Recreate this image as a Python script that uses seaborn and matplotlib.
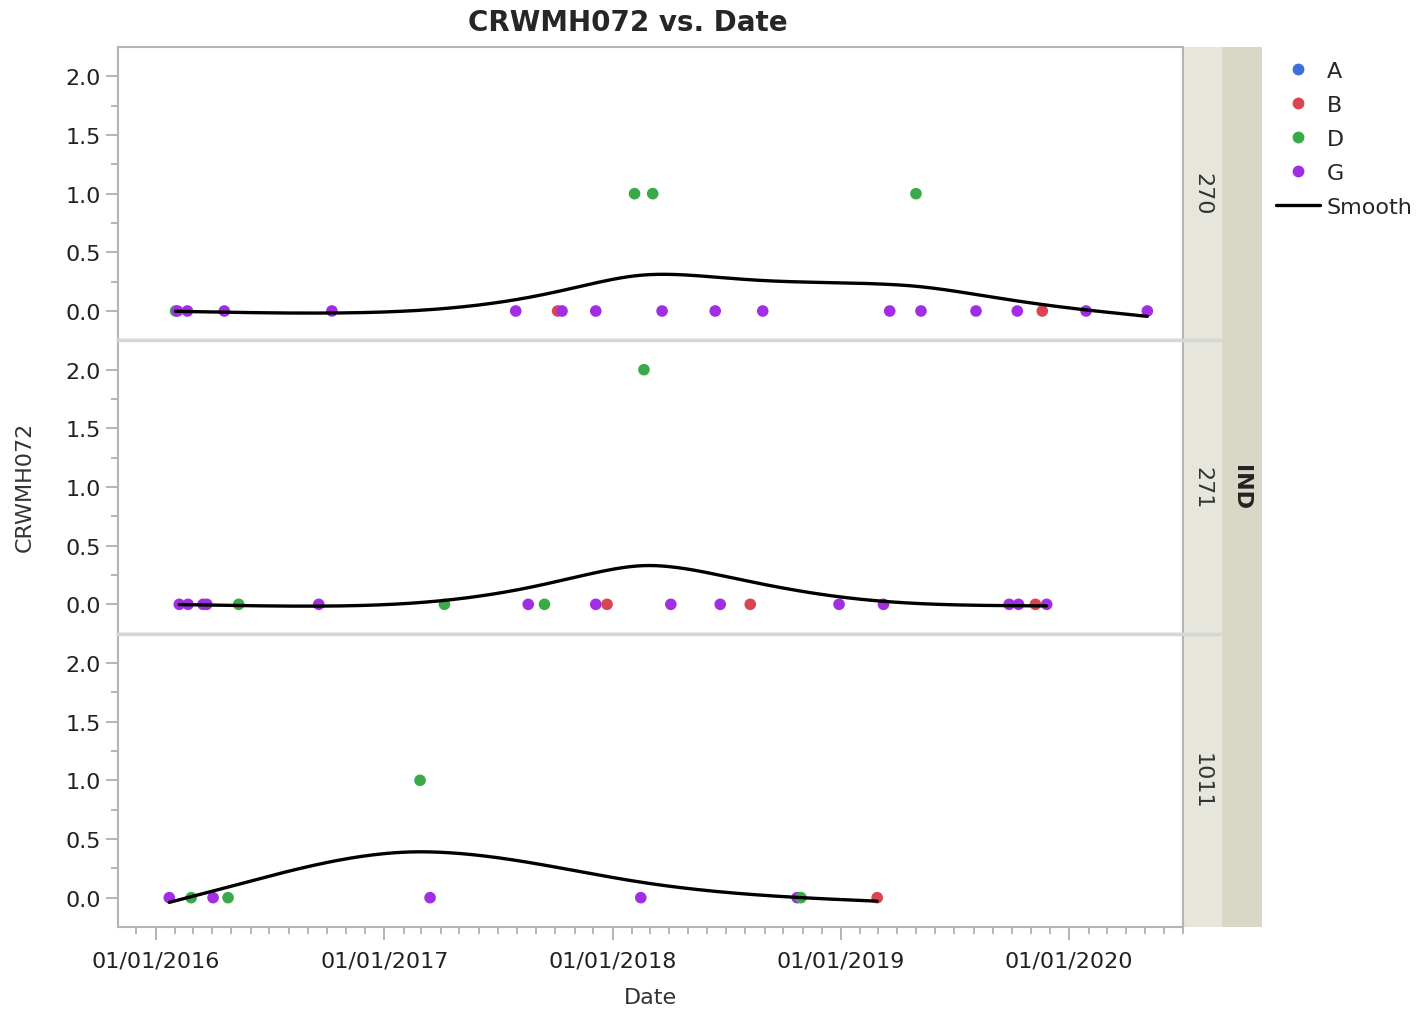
import numpy as np
import pandas as pd
import seaborn as sns
import matplotlib.pyplot as plt
import matplotlib.dates as mdates
from matplotlib.lines import Line2D
from matplotlib.patches import Rectangle

# data, one set of lists per IND panel
ind_270_date = ['2016-02-02', '2016-02-05', '2016-02-21', '2016-04-20', '2016-10-09',
                '2017-07-30', '2017-10-05', '2017-10-12', '2017-12-05', '2018-02-05',
                '2018-03-06', '2018-03-21', '2018-06-14', '2018-08-29', '2019-03-20',
                '2019-05-01', '2019-05-09', '2019-08-05', '2019-10-10', '2019-11-19',
                '2020-01-28', '2020-05-05']
ind_270_value = [0, 0, 0, 0, 0, 0, 0, 0, 0, 1, 1, 0, 0, 0, 0, 1, 0, 0, 0, 0, 0, 0]
ind_270_group = ['D', 'G', 'G', 'G', 'G', 'G', 'B', 'G', 'G', 'D', 'D', 'G', 'G', 'G',
                 'G', 'D', 'G', 'G', 'G', 'B', 'G', 'G']

ind_271_date = ['2016-02-08', '2016-02-22', '2016-03-17', '2016-03-23', '2016-05-13',
                '2016-09-18', '2017-04-07', '2017-08-19', '2017-09-14', '2017-12-05',
                '2017-12-23', '2018-02-20', '2018-04-04', '2018-06-22', '2018-08-09',
                '2018-12-29', '2019-03-10', '2019-09-27', '2019-10-12', '2019-11-08',
                '2019-11-26']
ind_271_value = [0, 0, 0, 0, 0, 0, 0, 0, 0, 0, 0, 2, 0, 0, 0, 0, 0, 0, 0, 0, 0]
ind_271_group = ['G', 'G', 'G', 'G', 'D', 'G', 'D', 'G', 'D', 'G', 'B', 'D', 'G', 'G',
                 'B', 'G', 'G', 'G', 'G', 'B', 'G']

ind_1011_date = ['2016-01-23', '2016-02-27', '2016-04-02', '2016-04-26', '2017-02-27',
                 '2017-03-15', '2018-02-15', '2018-10-23', '2018-10-29', '2019-02-28']
ind_1011_value = [0, 0, 0, 0, 1, 0, 0, 0, 0, 0]
ind_1011_group = ['G', 'D', 'G', 'D', 'D', 'G', 'G', 'G', 'D', 'B']

ind_order = ['270', '271', '1011']
groups = ['A', 'B', 'D', 'G']
group_colors = ['#3d6fd9', '#db4451', '#38aa48', '#a22ee4']

frames = []
for ind, d, v, gr in [('270', ind_270_date, ind_270_value, ind_270_group),
                      ('271', ind_271_date, ind_271_value, ind_271_group),
                      ('1011', ind_1011_date, ind_1011_value, ind_1011_group)]:
    frames.append(pd.DataFrame({'IND': ind, 'Date': pd.to_datetime(d),
                                'CRWMH072': v, 'Group': gr}))
df = pd.concat(frames, ignore_index=True)


def smooth_curve(dates, values, lam=0.07, n=400):
    # penalised (smoothing-spline like) fit on a fine grid, x in years
    t = (dates - dates.min()).dt.days.values / 365.25
    grid = np.linspace(0, t.max(), n)
    h = grid[1] - grid[0]
    idx = np.round(t / h).astype(int)
    w = np.bincount(idx, minlength=n).astype(float)
    z = np.bincount(idx, weights=np.asarray(values, float), minlength=n)
    D = np.diff(np.eye(n), 2, axis=0)
    s = np.linalg.solve(np.diag(w) + lam / h ** 3 * D.T @ D, z)
    grid_dates = dates.min() + pd.to_timedelta(grid * 365.25, unit='D')
    return grid_dates, s


sns.set_style('white')
plt.rcParams['font.family'] = ['DejaVu Sans']

g = sns.FacetGrid(df, row='IND', row_order=ind_order, sharex=True, sharey=True,
                  height=3, aspect=3.6, despine=False)
g.map_dataframe(sns.scatterplot, x='Date', y='CRWMH072', hue='Group', hue_order=groups,
                palette=group_colors, s=70, edgecolor='none', zorder=3)
g.set_titles(template='')

fig = g.figure
fig.set_size_inches(14.23, 10.12)
W, H = 1423.0, 1012.0
left, right, top, bottom = 118 / W, 1183 / W, 1 - 48 / H, 1 - 928 / H
fig.subplots_adjust(left=left, right=right, top=top, bottom=bottom, hspace=0)

for ax, ind in zip(g.axes.flat, ind_order):
    sub = df[df['IND'] == ind]
    gd, sv = smooth_curve(sub['Date'], sub['CRWMH072'])
    sns.lineplot(x=gd, y=sv, ax=ax, color='black', lw=2.4, zorder=4)
    ax.set_xlim(pd.Timestamp('2015-11-02'), pd.Timestamp('2020-07-01'))
    ax.set_ylim(-0.25, 2.25)
    ax.set_yticks([0, 0.5, 1.0, 1.5, 2.0])
    ax.set_yticks([0.25, 0.75, 1.25, 1.75], minor=True)
    ax.yaxis.set_major_formatter(plt.FormatStrFormatter('%.1f'))
    ax.xaxis.set_major_locator(mdates.YearLocator())
    ax.xaxis.set_minor_locator(mdates.MonthLocator())
    ax.xaxis.set_major_formatter(mdates.DateFormatter('%m/%d/%Y'))
    ax.tick_params(axis='both', which='major', length=9, width=1.2, color='#a8a8a8',
                   labelsize=16, labelcolor='#222222', direction='out')
    ax.tick_params(axis='both', which='minor', length=5, width=1.2, color='#a8a8a8',
                   direction='out')
    ax.tick_params(axis='x', which='major', pad=8)
    ax.tick_params(axis='x', which='both', bottom=True)
    ax.tick_params(axis='y', which='both', left=True)
    for sp in ax.spines.values():
        sp.set_color('#b4b4b4')
        sp.set_linewidth(1.5)
    ax.set_xlabel('')
    ax.set_ylabel('')
    if ax.get_legend() is not None:
        ax.get_legend().remove()

for ax in g.axes.flat[:-1]:
    ax.tick_params(axis='x', which='both', bottom=False, labelbottom=False)
    ax.spines['bottom'].set_color('#d6d6d6')
    ax.spines['bottom'].set_linewidth(2.5)

g.axes.flat[-1].set_xlabel('Date', fontsize=16, color='#333333', labelpad=12)
fig.text(25 / W, 1 - 487 / H, 'CRWMH072', rotation=90, fontsize=16, color='#333333',
         ha='center', va='center')
fig.suptitle('CRWMH072 vs. Date', x=628 / W, y=1 - 9 / H, fontsize=20,
             fontweight='bold', va='top')

# strips on the right: inner per-panel labels and outer IND band
panel_h = (top - bottom) / 3
fig.add_artist(Rectangle((1222 / W, bottom), 40 / W, top - bottom,
                         transform=fig.transFigure, facecolor='#d9d7c6',
                         edgecolor='none', zorder=0))
for i, ind in enumerate(ind_order):
    y0 = top - (i + 1) * panel_h
    fig.add_artist(Rectangle((1183 / W, y0), 39 / W, panel_h,
                             transform=fig.transFigure, facecolor='#e6e6dd',
                             edgecolor='none', zorder=0))
    fig.text(1202 / W, y0 + panel_h / 2, ind, rotation=270, fontsize=16,
             color='#333333', ha='center', va='center')
    if i > 0:
        fig.add_artist(Line2D([118 / W, 1222 / W], [y0 + panel_h] * 2,
                              transform=fig.transFigure, color='#d6d6d6', lw=2.5))
fig.text(1241 / W, (top + bottom) / 2, 'IND', rotation=270, fontsize=16,
         fontweight='bold', color='#222222', ha='center', va='center')

handles = [Line2D([], [], marker='o', ls='none', color=c, markersize=7.5)
           for c in group_colors]
handles.append(Line2D([], [], color='black', lw=2.4))
fig.legend(handles, groups + ['Smooth'], loc='upper left',
           bbox_to_anchor=(1267 / W, 1 - 53 / H), frameon=False, fontsize=16,
           handlelength=2.0, handletextpad=0.3, labelspacing=0.63, borderaxespad=0)

plt.savefig('out.png', dpi=100)
